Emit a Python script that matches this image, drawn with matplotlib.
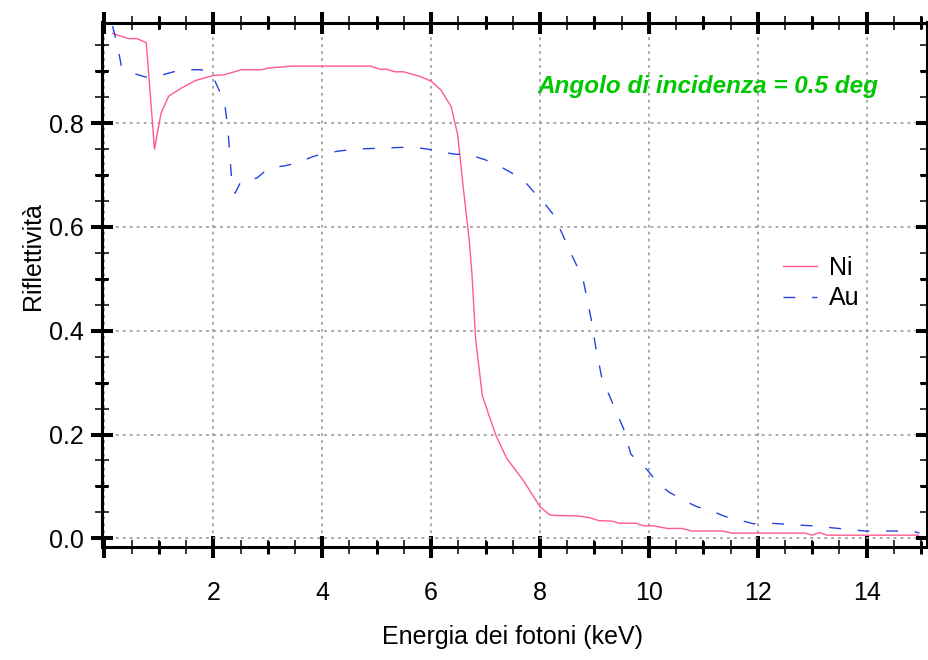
import numpy as np
import matplotlib
matplotlib.use("Agg")
import matplotlib.pyplot as plt
from matplotlib.ticker import MultipleLocator

plt.rcParams['font.family'] = ['Liberation Sans', 'DejaVu Sans']
plt.rcParams['lines.scale_dashes'] = False

# Reflectivity vs photon energy, grazing angle 0.5 deg
ni_energy = [0.15, 0.44, 0.60, 0.77, 0.92, 1.04, 1.18, 1.42, 1.67, 2.00, 2.19, 2.52,
             2.89, 3.00, 3.22, 3.44, 4.88, 5.06, 5.18, 5.34, 5.49, 5.80, 6.00, 6.18,
             6.37, 6.49, 6.58, 6.70, 6.75, 6.82, 6.94, 7.05, 7.20, 7.39, 7.69, 8.00,
             8.18, 8.28, 8.70, 8.90, 9.08, 9.33, 9.45, 9.76, 9.91, 10.09, 10.34, 10.60,
             10.79, 11.34, 11.53, 12.87, 12.99, 13.14, 13.27, 14.95]
ni_refl = [0.973, 0.963, 0.963, 0.955, 0.750, 0.819, 0.852, 0.868, 0.882, 0.892, 0.893, 0.903,
           0.903, 0.906, 0.908, 0.910, 0.910, 0.904, 0.904, 0.899, 0.899, 0.890, 0.881, 0.864,
           0.832, 0.777, 0.687, 0.575, 0.511, 0.382, 0.276, 0.241, 0.196, 0.154, 0.112, 0.061,
           0.045, 0.044, 0.043, 0.040, 0.034, 0.033, 0.029, 0.029, 0.024, 0.024, 0.019, 0.019,
           0.014, 0.014, 0.010, 0.010, 0.006, 0.011, 0.006, 0.006]

au_energy = [0.15, 0.23, 0.31, 0.44, 0.75, 0.93, 1.27, 1.45, 1.78, 1.97, 2.14, 2.22,
             2.27, 2.29, 2.34, 2.40, 2.52, 2.80, 3.01, 3.32, 3.53, 3.84, 4.05, 4.36,
             4.60, 5.64, 5.94, 6.15, 6.46, 6.67, 6.98, 7.19, 7.50, 7.71, 7.99, 8.11,
             8.23, 8.41, 8.53, 8.79, 8.94, 9.03, 9.14, 9.30, 9.54, 9.67, 9.96, 10.17,
             10.37, 10.70, 10.88, 11.19, 11.40, 11.74, 11.92, 12.23, 12.99, 13.48, 13.97,
             14.85, 14.97]
au_refl = [0.987, 0.955, 0.911, 0.899, 0.889, 0.889, 0.899, 0.903, 0.903, 0.895, 0.856, 0.829,
           0.787, 0.758, 0.687, 0.665, 0.690, 0.694, 0.713, 0.718, 0.723, 0.736, 0.742, 0.747,
           0.750, 0.754, 0.750, 0.745, 0.740, 0.740, 0.730, 0.721, 0.703, 0.689, 0.655, 0.642,
           0.626, 0.587, 0.558, 0.500, 0.423, 0.365, 0.307, 0.269, 0.210, 0.162, 0.133, 0.106,
           0.089, 0.070, 0.061, 0.051, 0.042, 0.033, 0.028, 0.029, 0.024, 0.019, 0.014,
           0.014, 0.010]

fig = plt.figure(figsize=(9.29, 6.60), dpi=100)
AX_W, AX_H = 824.5, 524.5
ax = fig.add_axes([102 / 929, 113 / 660, AX_W / 929, AX_H / 660])

ax.plot(ni_energy, ni_refl, color='#ff5a90', lw=1.0, label='Ni')
ax.plot(au_energy, au_refl, color='#2444e0', lw=1.0, ls=(0, (8.6, 12)), label='Au')

ax.set_xlim(-0.044, 15.10)
ax.set_ylim(-0.0168, 0.994)

ax.xaxis.set_major_locator(MultipleLocator(2))
ax.xaxis.set_minor_locator(MultipleLocator(0.5))
ax.yaxis.set_major_locator(MultipleLocator(0.2))
ax.yaxis.set_minor_locator(MultipleLocator(0.05))
ax.xaxis.set_major_formatter(lambda v, p: '' if v <= 0 else f'{v:.0f}')
ax.yaxis.set_major_formatter(lambda v, p: f'{v:.1f}')

ax.tick_params(which='both', direction='inout', top=True, right=True, colors='black')
ax.tick_params(which='major', length=16, width=2.9, labelsize=18)
ax.tick_params(which='minor', length=9.4, width=1.1)
ax.tick_params(axis='x', which='major', pad=16.5)
ax.tick_params(axis='y', which='major', pad=5)

for s in ax.spines.values():
    s.set_linewidth(2.2)

ax.grid(which='major', color='#9a9a9a', ls=(0, (2, 3)), lw=1.2)

# thicker intermediate ticks at odd integers (x) and at odd tenths (y)
hx = 6.5 / AX_H
hy = 6.5 / AX_W
x_mid = np.arange(1, 16, 2)
y_mid = np.arange(0.1, 1.0, 0.2)
xt = ax.get_xaxis_transform()
yt = ax.get_yaxis_transform()
for y0 in (0, 1):
    ax.vlines(x_mid, y0 - hx, y0 + hx, transform=xt, color='black', lw=2.2, clip_on=False)
for x0 in (0, 1):
    ax.hlines(y_mid, x0 - hy, x0 + hy, transform=yt, color='black', lw=2.2, clip_on=False)

leg = ax.legend(loc='upper left', bbox_to_anchor=((783 - 102) / AX_W, (547 - 256) / AX_H),
                frameon=False, fontsize=18, handlelength=1.36, handletextpad=0.48,
                borderpad=0, borderaxespad=0, labelspacing=0.25)

fig.text(708 / 929, 1 - 93 / 660, 'Angolo di incidenza = 0.5 deg', color='#00c800',
         fontsize=17.5, fontweight='bold', fontstyle='italic', ha='center', va='baseline')

fig.text(513 / 929, 1 - 637 / 660, 'Energia dei fotoni (keV)', fontsize=18,
         ha='center', va='center')
fig.text(33 / 929, 1 - 256 / 660, 'Riflettività', fontsize=18, rotation=90,
         ha='center', va='center')

fig.savefig('out.png', dpi=100)
